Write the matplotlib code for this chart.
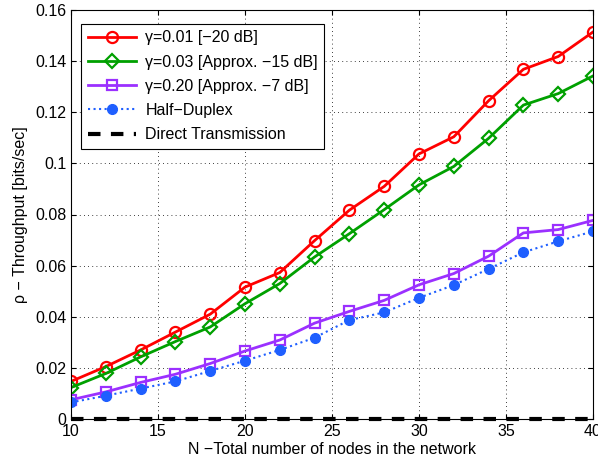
import numpy as np
import matplotlib.pyplot as plt

plt.rcParams['font.family'] = ['Liberation Sans', 'DejaVu Sans']

# data
nodes = [10, 12, 14, 16, 18, 20, 22, 24, 26, 28, 30, 32, 34, 36, 38, 40]
gamma_001 = [0.0147, 0.0205, 0.027, 0.034, 0.041, 0.0516, 0.0573, 0.0698,
             0.0817, 0.091, 0.1037, 0.1104, 0.1245, 0.1368, 0.1418, 0.1514]
gamma_003 = [0.0123, 0.0178, 0.0243, 0.0303, 0.036, 0.0451, 0.053, 0.0634,
             0.0725, 0.0819, 0.0916, 0.0988, 0.1098, 0.1228, 0.1273, 0.1342]
gamma_020 = [0.0075, 0.0106, 0.0143, 0.0175, 0.0217, 0.0266, 0.0309, 0.0375,
             0.0421, 0.0464, 0.0525, 0.0569, 0.0637, 0.0728, 0.0741, 0.0777]
half_duplex = [0.0065, 0.0091, 0.0119, 0.0147, 0.0188, 0.0228, 0.027, 0.0318,
               0.0387, 0.0417, 0.0474, 0.0524, 0.0587, 0.0652, 0.0695, 0.0734]
direct = [0.0] * len(nodes)

labels = ['\u03b3=0.01 [\u221220 dB]',
          '\u03b3=0.03 [Approx. \u221215 dB]',
          '\u03b3=0.20 [Approx. \u22127 dB]',
          'Half\u2212Duplex',
          'Direct Transmission']

fig = plt.figure(figsize=(5.98, 4.66), dpi=100)
ax = fig.add_axes([71 / 598, 1 - 419 / 466, 522 / 598, 409 / 466])

ax.plot(nodes, gamma_001, color='#ff0000', lw=2, marker='o', ms=8,
        mfc='none', mew=1.6, label=labels[0])
ax.plot(nodes, gamma_003, color='#00a000', lw=2, marker='D', ms=7,
        mfc='none', mew=1.6, label=labels[1])
ax.plot(nodes, gamma_020, color='#9b30ff', lw=2, marker='s', ms=7,
        mfc='none', mew=1.6, label=labels[2])
ax.plot(nodes, half_duplex, color='#1f5fff', lw=1.5, ls=':', marker='o',
        ms=7, label=labels[3])
ax.plot(nodes, direct, color='black', lw=3, ls=(0, (3, 2.5)), label=labels[4],
        clip_on=False, zorder=5)

ax.set_xlim(10, 40)
ax.set_ylim(0, 0.16)
ax.set_xticks([10, 15, 20, 25, 30, 35, 40])
ax.set_yticks([0, 0.02, 0.04, 0.06, 0.08, 0.1, 0.12, 0.14, 0.16])
ax.set_yticklabels(['0', '0.02', '0.04', '0.06', '0.08', '0.1', '0.12',
                    '0.14', '0.16'])
ax.tick_params(direction='in', labelsize=11.5, top=True, right=True)
ax.grid(True, ls=(0, (1, 4)), color='black', lw=0.6)
ax.set_xlabel('N \u2212Total number of nodes in the network', fontsize=11.5,
              labelpad=2)
ax.set_ylabel('\u03c1 \u2212 Throughput [bits/sec]', fontsize=11.5, labelpad=5)

leg = ax.legend(loc='upper left', bbox_to_anchor=(0.02, 0.966), fontsize=11.5,
                handlelength=3.0, fancybox=False, framealpha=1,
                borderaxespad=0, labelspacing=0.58, handletextpad=0.6)
leg.get_frame().set_edgecolor('black')
leg.get_frame().set_linewidth(0.8)

fig.savefig('out.png', dpi=100)
